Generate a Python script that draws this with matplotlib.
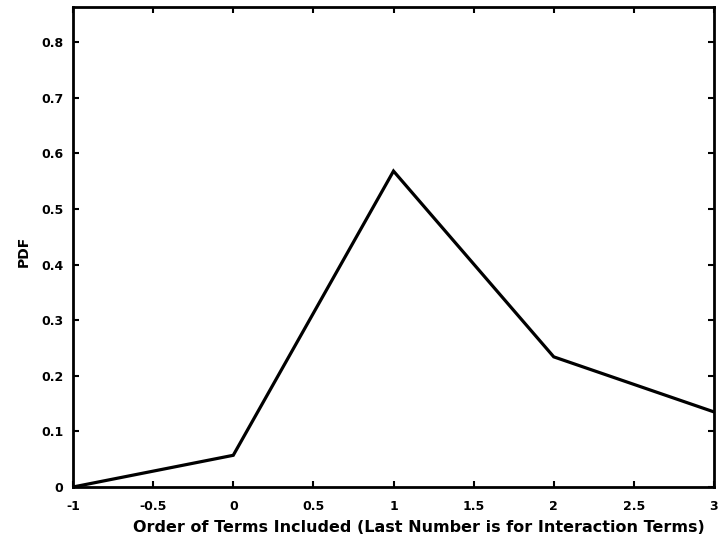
import numpy as np
import matplotlib.pyplot as plt

plt.rcParams['font.family'] = ['DejaVu Sans']
plt.rcParams['font.weight'] = 'bold'

order = [-1, 0, 1, 2, 3]
pdf = [0.0, 0.057, 0.568, 0.234, 0.135]
xticks = [-1, -0.5, 0, 0.5, 1, 1.5, 2, 2.5, 3]
yticks = [0, 0.1, 0.2, 0.3, 0.4, 0.5, 0.6, 0.7, 0.8]

fig = plt.figure(figsize=(7.19, 5.41), dpi=100)
ax = fig.add_axes([73 / 719, 54 / 541, 641 / 719, 480 / 541])
ax.plot(order, pdf, color='black', linewidth=2.3, solid_joinstyle='miter')

ax.set_xlim(-1, 3)
ax.set_ylim(0, 0.863)
ax.set_xticks(xticks)
ax.set_yticks(yticks)
ax.set_xticklabels(['-1', '-0.5', '0', '0.5', '1', '1.5', '2', '2.5', '3'])
ax.set_yticklabels(['0', '0.1', '0.2', '0.3', '0.4', '0.5', '0.6', '0.7', '0.8'])
ax.tick_params(direction='in', length=4, width=1.5, labelsize=9, top=True, right=True)
ax.tick_params(axis='x', pad=9)
ax.tick_params(axis='y', pad=7)
for s in ax.spines.values():
    s.set_linewidth(2)

ax.set_xlabel('Order of Terms Included (Last Number is for Interaction Terms)',
              fontsize=11.5, fontweight='bold')
ax.xaxis.set_label_coords(0.54, -0.068)
ax.set_ylabel('PDF', fontsize=10, fontweight='bold')
ax.yaxis.set_label_coords(-0.066, 0.49)

fig.savefig('out.png', dpi=100)
